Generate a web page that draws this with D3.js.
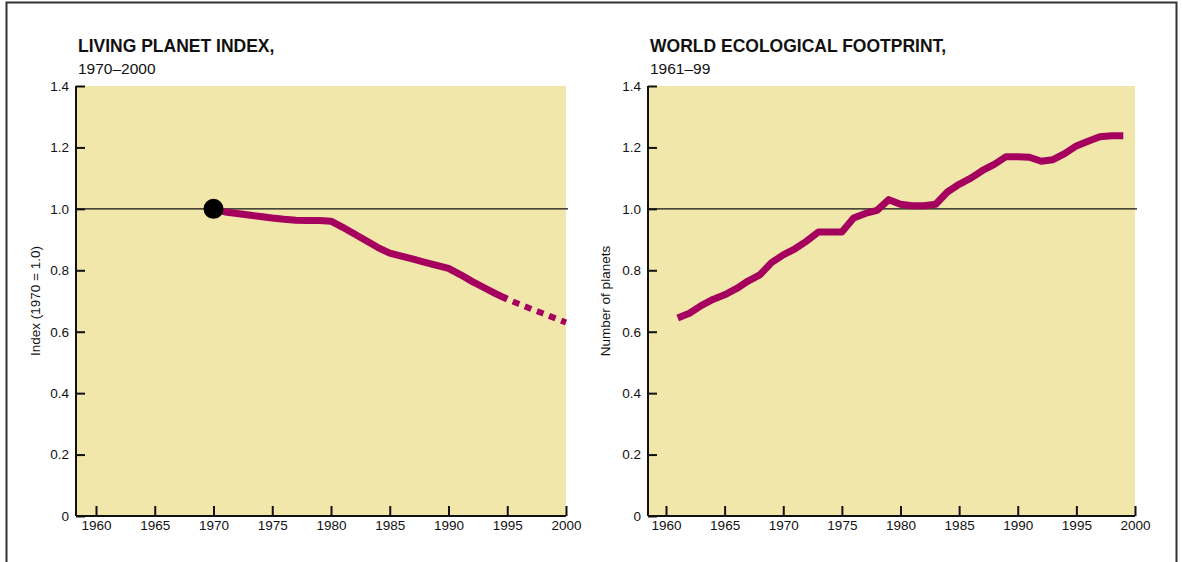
<!DOCTYPE html>
<html>
<head>
<meta charset="utf-8">
<script src="https://cdn.jsdelivr.net/npm/d3@7"></script>
<style>
  body { margin: 0; background: #fff; }
  svg { display: block; font-family: "Liberation Sans", Arial, sans-serif; }
</style>
</head>
<body>
<svg id="chart" width="1182" height="562"></svg>
<script>
(function() {

// ---------- data ----------
const lpiYears = [1970, 1971, 1972, 1973, 1974, 1975, 1976, 1977, 1978, 1979, 1980,
  1981, 1982, 1983, 1984, 1985, 1986, 1987, 1988, 1989, 1990,
  1991, 1992, 1993, 1994, 1995];
const lpiValues = [1.00, 0.99, 0.985, 0.98, 0.975, 0.97, 0.966, 0.963, 0.962, 0.962, 0.96,
  0.94, 0.918, 0.896, 0.874, 0.856, 0.846, 0.836, 0.826, 0.816, 0.806,
  0.786, 0.764, 0.744, 0.724, 0.706];
// projected part (dashed)
const lpiProjYears = [1995, 1996, 1997, 1998, 1999, 2000];
const lpiProjValues = [0.706, 0.69, 0.675, 0.66, 0.645, 0.63];

const efYears = d3.range(1961, 2000);
const efValues = [0.645, 0.66, 0.685, 0.705, 0.72, 0.74, 0.765, 0.785, 0.825, 0.85,
  0.87, 0.895, 0.925, 0.925, 0.925, 0.97, 0.985, 0.995, 1.03, 1.015,
  1.01, 1.01, 1.015, 1.055, 1.08, 1.10, 1.125, 1.145, 1.17, 1.17,
  1.168, 1.155, 1.16, 1.18, 1.205, 1.22, 1.235, 1.238, 1.238];

const xTicks = [1960, 1965, 1970, 1975, 1980, 1985, 1990, 1995, 2000];
const yTicks = [0, 0.2, 0.4, 0.6, 0.8, 1.0, 1.2, 1.4];

const lineColor = "#a6005e";
const fillColor = "#f2e7ab";

const svg = d3.select("#chart");

// outer frame
svg.append("rect")
  .attr("x", 6.5).attr("y", 2.5)
  .attr("width", 1170).attr("height", 600)
  .attr("fill", "none")
  .attr("stroke", "#333")
  .attr("stroke-width", 2);

function drawPanel(opts) {
  const g = svg.append("g");
  const x = d3.scaleLinear().domain([1960, 2000]).range([opts.x1960, opts.x2000]);
  const y = d3.scaleLinear().domain([0, 1.4]).range([516, 86]);
  const left = opts.axisX;

  // background
  g.append("rect")
    .attr("x", left).attr("y", y(1.4))
    .attr("width", x(2000) - left).attr("height", y(0) - y(1.4))
    .attr("fill", fillColor);

  // reference line at 1.0
  g.append("line")
    .attr("x1", left).attr("x2", x(2000) + 2)
    .attr("y1", y(1)).attr("y2", y(1))
    .attr("stroke", "#111").attr("stroke-width", 1.3);

  // y axis (ticks inward)
  const yAxis = d3.axisRight(y).tickValues(yTicks).tickSize(9)
    .tickFormat(d => d === 0 ? "0" : d3.format(".1f")(d));
  const ya = g.append("g").attr("transform", `translate(${left},0)`).call(yAxis);
  ya.select(".domain").attr("stroke", "#111").attr("stroke-width", 2).attr("d", `M0,${y(1.4)}V${y(0)}`);
  ya.selectAll(".tick line").attr("stroke", "#111").attr("stroke-width", 2);
  ya.selectAll(".tick text")
    .attr("x", -7).attr("text-anchor", "end")
    .attr("font-size", 13.5).attr("fill", "#111");

  // x axis (ticks inward)
  const xAxis = d3.axisBottom(x).tickValues(xTicks).tickSize(-10).tickFormat(d3.format("d"));
  const xa = g.append("g").attr("transform", `translate(0,${y(0)})`).call(xAxis);
  xa.select(".domain").attr("stroke", "#111").attr("stroke-width", 2).attr("d", `M${left},0H${x(2000)}`);
  xa.selectAll(".tick line").attr("stroke", "#111").attr("stroke-width", 2);
  xa.selectAll(".tick text")
    .attr("y", 4).attr("dy", "0.71em")
    .attr("font-size", 13.5).attr("fill", "#111");

  // y title
  g.append("text")
    .attr("transform", `translate(${opts.yTitleX},${y(0.7)}) rotate(-90)`)
    .attr("text-anchor", "middle")
    .attr("font-size", 13.5).attr("fill", "#111")
    .text(opts.yTitle);

  // titles
  g.append("text")
    .attr("x", left + 2).attr("y", 52)
    .attr("font-size", 17.5).attr("font-weight", "bold").attr("fill", "#111")
    .text(opts.title);
  g.append("text")
    .attr("x", left + 2).attr("y", 74)
    .attr("font-size", 15.5).attr("fill", "#111")
    .text(opts.subtitle);

  return { g, x, y };
}

// ---------- left: Living Planet Index ----------
const p1 = drawPanel({
  x1960: 96, x2000: 566, axisX: 76, yTitleX: 40,
  title: "LIVING PLANET INDEX,", subtitle: "1970–2000",
  yTitle: "Index (1970 = 1.0)"
});

const line1 = d3.line().x((d, i) => p1.x(d)).y((d, i) => p1.y(lpiValues[i]));
p1.g.append("path")
  .attr("d", line1(lpiYears))
  .attr("fill", "none").attr("stroke", lineColor)
  .attr("stroke-width", 7).attr("stroke-linejoin", "round");

const lineProj = d3.line().x(d => p1.x(d)).y((d, i) => p1.y(lpiProjValues[i]));
p1.g.append("path")
  .attr("d", lineProj(lpiProjYears))
  .attr("fill", "none").attr("stroke", lineColor)
  .attr("stroke-width", 6).attr("stroke-dasharray", "7,6")
  .attr("stroke-dashoffset", -6);

p1.g.append("circle")
  .attr("cx", p1.x(1970)).attr("cy", p1.y(1))
  .attr("r", 10).attr("fill", "#000");

// ---------- right: Ecological Footprint ----------
const p2 = drawPanel({
  x1960: 666, x2000: 1135, axisX: 648, yTitleX: 610,
  title: "WORLD ECOLOGICAL FOOTPRINT,", subtitle: "1961–99",
  yTitle: "Number of planets"
});

const line2 = d3.line().x(d => p2.x(d)).y((d, i) => p2.y(efValues[i]));
p2.g.append("path")
  .attr("d", line2(efYears))
  .attr("fill", "none").attr("stroke", lineColor)
  .attr("stroke-width", 7).attr("stroke-linejoin", "round");

})();
</script>
</body>
</html>
